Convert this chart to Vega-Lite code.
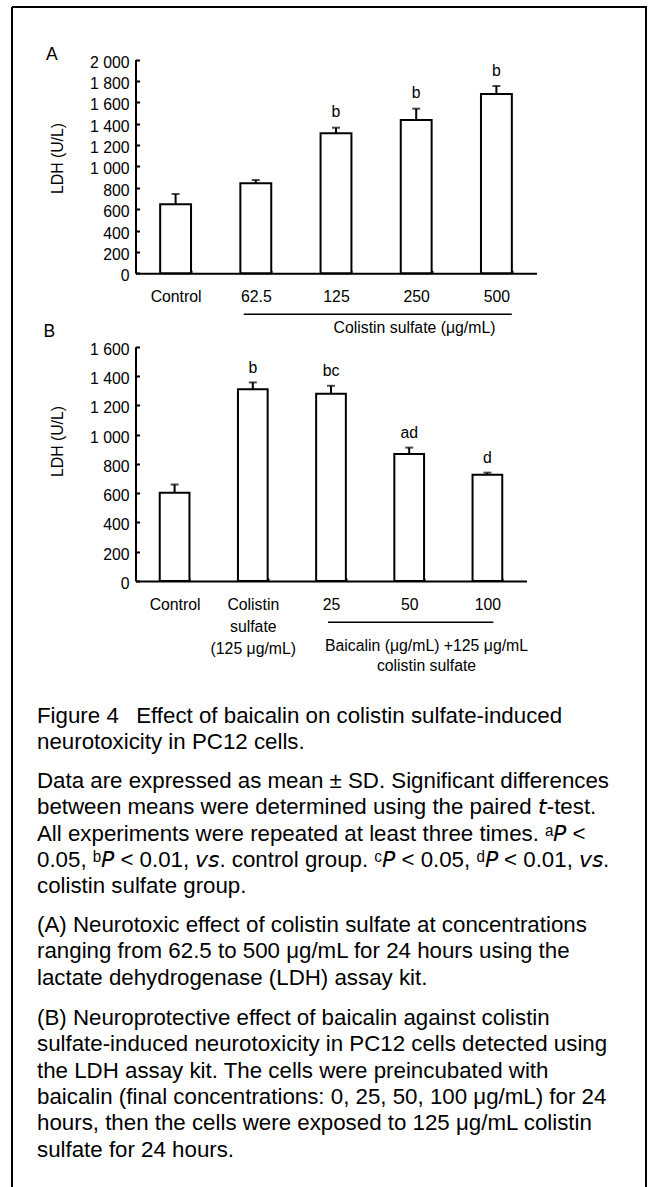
{
  "$schema": "https://vega.github.io/schema/vega-lite/v6.json",
  "width": 634,
  "height": 1180,
  "padding": {"left": 12, "top": 7, "right": 2, "bottom": 0},
  "autosize": {"type": "none"},
  "background": "white",
  "config": {
    "view": {"stroke": "black", "strokeWidth": 2, "strokeDash": [1814, 634, 1180, 0]},
    "font": "Liberation Sans",
    "text": {"font": "Liberation Sans", "color": "black"},
    "axis": {
      "domainColor": "black", "domainWidth": 2, "tickColor": "black", "tickWidth": 2,
      "labelColor": "black", "titleColor": "black", "labelFont": "Liberation Sans", "titleFont": "Liberation Sans",
      "labelFontSize": 15.8, "titleFontSize": 15.8, "titleFontWeight": "normal", "grid": false, "labelOverlap": false
    }
  },
  "resolve": {"scale": {"x": "independent", "y": "independent"}, "axis": {"x": "independent", "y": "independent"}},
  "layer": [
    {
      "data": {"values": [
        {"group": "Control", "mean": 645, "upper": 742, "sig": ""},
        {"group": "62.5", "mean": 842, "upper": 873, "sig": ""},
        {"group": "125", "mean": 1310, "upper": 1362, "sig": "b"},
        {"group": "250", "mean": 1434, "upper": 1540, "sig": "b"},
        {"group": "500", "mean": 1677, "upper": 1752, "sig": "b"}
      ]},
      "encoding": {
        "x": {"field": "group", "type": "nominal", "sort": null, "title": "Colistin sulfate (μg/mL)",
          "scale": {"domain": ["Control", "62.5", "125", "250", "500"], "range": [123.5, 524.5], "paddingInner": 0.615, "paddingOuter": 0.3075},
          "axis": {"orient": "bottom", "offset": -913.7, "title": "Colistin sulfate (μg/mL)", "titleX": 402, "titleY": 58.7, "titleBaseline": "alphabetic", "titleAlign": "center",
            "tickSize": -3, "tickBand": "extent", "labelPadding": 31, "labelBaseline": "alphabetic", "labelAngle": 0, "labelAlign": "center"}
        },
        "y": {"field": "mean", "type": "quantitative", "title": "LDH (U/L)",
          "scale": {"domain": [0, 2000], "range": [266.3, 52.5], "nice": false},
          "axis": {"orient": "left", "offset": -123.5, "values": [0, 200, 400, 600, 800, 1000, 1200, 1400, 1600, 1800, 2000],
            "labelExpr": "replace(format(datum.value, ','), ',', ' ')", "tickSize": -4, "labelPadding": 10.5, "labelBaseline": "alphabetic", "labelOffset": 7.5,
            "titleAngle": 270, "titleX": -73, "titleY": 151, "titleBaseline": "alphabetic", "titleAlign": "center"}}
      },
      "layer": [
        {"mark": {"type": "rule", "color": "black", "strokeWidth": 2},
         "encoding": {"y2": {"field": "upper"}}},
        {"mark": {"type": "tick", "color": "black", "size": 8, "thickness": 2},
         "encoding": {"y": {"field": "upper", "type": "quantitative", "title": "LDH (U/L)"}}},
        {"mark": {"type": "bar", "fill": "white", "stroke": "black", "strokeWidth": 2}},
        {"mark": {"type": "text", "baseline": "alphabetic", "dy": -10.5, "fontSize": 15.8},
         "encoding": {"y": {"field": "upper", "type": "quantitative", "title": "LDH (U/L)"}, "text": {"field": "sig", "type": "nominal"}}},
        {"data": {"values": [{"from": "62.5", "to": "500"}]},
         "mark": {"type": "rule", "color": "black", "strokeWidth": 1.5},
         "encoding": {
           "x": {"field": "from", "type": "nominal", "bandPosition": 0.11, "title": "Colistin sulfate (μg/mL)"},
           "x2": {"field": "to", "bandPosition": 1},
           "y": {"value": 307.3}
         }}
      ]
    },
    {
      "data": {"values": [
        {"group": "Control", "mean": 602, "upper": 659, "sig": ""},
        {"group": "Colistin sulfate (125 μg/mL)", "mean": 1309, "upper": 1356, "sig": "b"},
        {"group": "25", "mean": 1279, "upper": 1333, "sig": "bc"},
        {"group": "50", "mean": 868, "upper": 911, "sig": "ad"},
        {"group": "100", "mean": 726, "upper": 740, "sig": "d"}
      ]},
      "encoding": {
        "x": {"field": "group", "type": "nominal", "sort": null, "title": "Baicalin (μg/mL) +125 μg/mL colistin sulfate",
          "scale": {"domain": ["Control", "Colistin sulfate (125 μg/mL)", "25", "50", "100"], "range": [123.5, 514.5], "paddingInner": 0.62, "paddingOuter": 0.31},
          "axis": {"orient": "bottom", "offset": -606, "title": ["Baicalin (μg/mL) +125 μg/mL", "colistin sulfate"], "titleX": 414, "titleY": 69.5, "titleBaseline": "alphabetic", "titleAlign": "center", "titleLineHeight": 19.5,
            "tickSize": -3, "tickBand": "extent", "labelPadding": 31, "labelBaseline": "alphabetic", "labelAngle": 0, "labelAlign": "center", "labelLineHeight": 22,
            "labelExpr": "datum.label == 'Colistin sulfate (125 μg/mL)' ? ['Colistin', 'sulfate', '(125 μg/mL)'] : datum.label"}
        },
        "y": {"field": "mean", "type": "quantitative", "title": "LDH (U/L)",
          "scale": {"domain": [0, 1600], "range": [574, 339.7], "nice": false},
          "axis": {"orient": "left", "offset": -123.5, "values": [0, 200, 400, 600, 800, 1000, 1200, 1400, 1600],
            "labelExpr": "replace(format(datum.value, ','), ',', ' ')", "tickSize": -4, "labelPadding": 10.5, "labelBaseline": "alphabetic", "labelOffset": 7.5,
            "titleAngle": 270, "titleX": -73, "titleY": 434, "titleBaseline": "alphabetic", "titleAlign": "center"}}
      },
      "layer": [
        {"mark": {"type": "rule", "color": "black", "strokeWidth": 2},
         "encoding": {"y2": {"field": "upper"}}},
        {"mark": {"type": "tick", "color": "black", "size": 8, "thickness": 2},
         "encoding": {"y": {"field": "upper", "type": "quantitative", "title": "LDH (U/L)"}}},
        {"mark": {"type": "bar", "fill": "white", "stroke": "black", "strokeWidth": 2}},
        {"mark": {"type": "text", "baseline": "alphabetic", "dy": -9.5, "fontSize": 15.8},
         "encoding": {"y": {"field": "upper", "type": "quantitative", "title": "LDH (U/L)"}, "text": {"field": "sig", "type": "nominal"}}},
        {"data": {"values": [{"from": "25", "to": "100"}]},
         "mark": {"type": "rule", "color": "black", "strokeWidth": 1.5},
         "encoding": {
           "x": {"field": "from", "type": "nominal", "bandPosition": 0.4, "title": "Baicalin (μg/mL) +125 μg/mL colistin sulfate"},
           "x2": {"field": "to", "bandPosition": 0.7},
           "y": {"value": 615.3}
         }}
      ]
    },
    {"data": {"values": [{"panel": "A"}]},
     "mark": {"type": "text", "align": "left", "baseline": "alphabetic", "fontSize": 17.5},
     "encoding": {"text": {"field": "panel", "type": "nominal"}, "x": {"value": 34}, "y": {"value": 53}}},
    {"data": {"values": [{"panel": "B"}]},
     "mark": {"type": "text", "align": "left", "baseline": "alphabetic", "fontSize": 17.5},
     "encoding": {"text": {"field": "panel", "type": "nominal"}, "x": {"value": 31.5}, "y": {"value": 330.3}}},
    {"data": {"values": [{"caption": ["Figure 4\u2002 Effect of baicalin on colistin sulfate-induced", "neurotoxicity in PC12 cells."]}]},
     "mark": {"type": "text", "align": "left", "baseline": "alphabetic", "fontSize": 22.3, "lineHeight": 26.3},
     "encoding": {"text": {"field": "caption", "type": "nominal"}, "x": {"value": 25}, "y": {"value": 716}}},
    {"data": {"values": [{"caption": ["Data are expressed as mean ± SD. Significant differences", "between means were determined using the paired 𝘵-test.", "All experiments were repeated at least three times. ᵃ𝘗 <", "0.05, ᵇ𝘗 < 0.01, 𝘷𝘴. control group. ᶜ𝘗 < 0.05, ᵈ𝘗 < 0.01, 𝘷𝘴.", "colistin sulfate group."]}]},
     "mark": {"type": "text", "align": "left", "baseline": "alphabetic", "fontSize": 22.3, "lineHeight": 26.3},
     "encoding": {"text": {"field": "caption", "type": "nominal"}, "x": {"value": 25}, "y": {"value": 781}}},
    {"data": {"values": [{"caption": ["(A) Neurotoxic effect of colistin sulfate at concentrations", "ranging from 62.5 to 500 μg/mL for 24 hours using the", "lactate dehydrogenase (LDH) assay kit."]}]},
     "mark": {"type": "text", "align": "left", "baseline": "alphabetic", "fontSize": 22.3, "lineHeight": 26.3},
     "encoding": {"text": {"field": "caption", "type": "nominal"}, "x": {"value": 25}, "y": {"value": 925}}},
    {"data": {"values": [{"caption": ["(B) Neuroprotective effect of baicalin against colistin", "sulfate-induced neurotoxicity in PC12 cells detected using", "the LDH assay kit. The cells were preincubated with", "baicalin (final concentrations: 0, 25, 50, 100 μg/mL) for 24", "hours, then the cells were exposed to 125 μg/mL colistin", "sulfate for 24 hours."]}]},
     "mark": {"type": "text", "align": "left", "baseline": "alphabetic", "fontSize": 22.3, "lineHeight": 26.3},
     "encoding": {"text": {"field": "caption", "type": "nominal"}, "x": {"value": 25}, "y": {"value": 1018}}}
  ]
}
